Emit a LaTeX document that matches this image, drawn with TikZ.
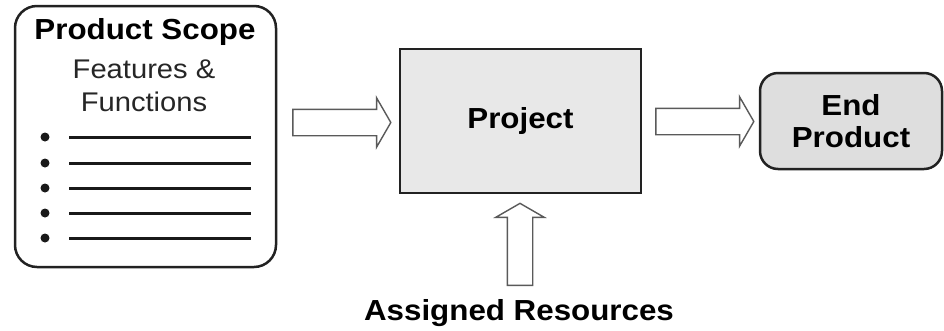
\documentclass[tikz,border=0pt]{standalone}
\usepackage{fontspec}
\setmainfont{Liberation Sans}[FakeStretch=1.08]
\usetikzlibrary{
  shapes.arrows,
  positioning
}
\definecolor{boxline}{HTML}{222222}
\definecolor{arrowline}{HTML}{5A5A5A}
\definecolor{projfill}{HTML}{E8E8E8}
\definecolor{endfill}{HTML}{DEDEDE}
\tikzset{
  box/.style={draw=boxline, line width=2.5pt, inner sep=0pt},
  bigtext/.style={font=\fontsize{29}{33}\selectfont\bfseries, text=black},
  smalltext/.style={font=\fontsize{27}{33}\selectfont, text=black!85},
  hollowarrow/.style={single arrow, draw=arrowline, fill=white, line width=1.4pt,
    inner sep=0pt, text height=25pt, text depth=0pt,
    single arrow head extend=11.5pt, single arrow tip angle=120,
    single arrow head indent=0pt}
}

\begin{document}
\begin{tikzpicture}[x=1pt,y=-1pt]
	\useasboundingbox (0,0) rectangle (944,330);
	% product scope
	\node[box, rounded corners=22pt, minimum width=261pt, minimum height=261pt] (scope) at (145.5,136.5) {};
	\node[bigtext, anchor=base] (scopetitle) at (145,39) {Product Scope};
	\node[smalltext, anchor=base] (features) at (144,78) {Features \&};
	\node[smalltext, anchor=base] (functions) at (144,111) {Functions};
	\foreach \y in {137,163,188,213,238} {
		\fill[black!90] (45,\y) circle (4.5);
		\draw[black!90, line width=3pt] (69,\y) -- (251,\y);
	}
	% project and end product
	\node[box, fill=projfill, minimum width=241pt, minimum height=144pt, bigtext] (project) at (520.5,121) {Project};
	\node[box, fill=endfill, rounded corners=18pt, minimum width=182pt, minimum height=96pt, bigtext, align=center] (endprod) at (851,121) {End\\[-1pt]Product};
	% block arrows
	\node[hollowarrow, minimum height=98pt] (inarrow) at (338,122.5) {};
	\node[hollowarrow, minimum height=98pt] (outarrow) at (701,121.5) {};
	\node[hollowarrow, minimum height=82pt, text height=24pt, rotate=90] (resarrow) at (520,248) {};
	\node[bigtext, anchor=base] (resources) at (519,320) {Assigned Resources};
\end{tikzpicture}
\end{document}
